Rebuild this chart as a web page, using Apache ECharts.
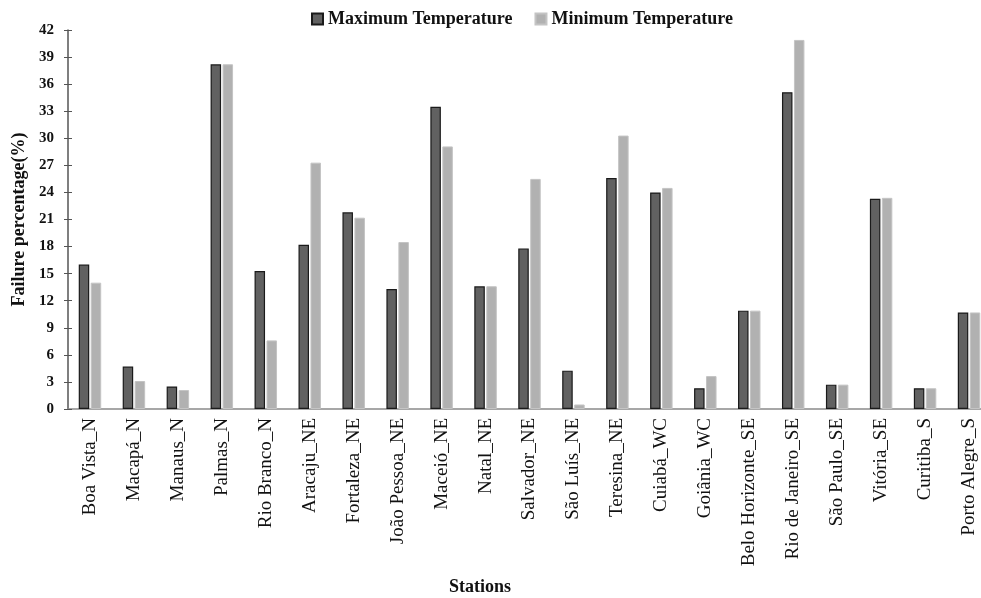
<!DOCTYPE html>
<html><head><meta charset="utf-8">
<script src="https://cdn.jsdelivr.net/npm/echarts@6/dist/echarts.min.js"></script>
<style>html,body{margin:0;padding:0;background:#fff}#c{width:981px;height:598px}</style>
</head><body><div id="c"></div>
<script>
var stations = ["Boa Vista_N","Macapá_N","Manaus_N","Palmas_N","Rio Branco_N","Aracaju_NE","Fortaleza_NE","João Pessoa_NE","Maceió_NE","Natal_NE","Salvador_NE","São Luís_NE","Teresina_NE","Cuiabá_WC","Goiânia_WC","Belo Horizonte_SE","Rio de Janeiro_SE","São Paulo_SE","Vitória_SE","Curitiba_S","Porto Alegre_S"];
var maxTemp = [16.0,4.7,2.5,38.2,15.3,18.2,21.8,13.3,33.5,13.6,17.8,4.25,25.6,24.0,2.3,10.9,35.1,2.7,23.3,2.3,10.7];
var minTemp = [14.0,3.1,2.1,38.2,7.6,27.3,21.2,18.5,29.1,13.6,25.5,0.5,30.3,24.5,3.65,10.9,40.9,2.7,23.4,2.3,10.7];
var serif = "'Liberation Serif','Times New Roman',serif";
var chart = echarts.init(document.getElementById('c'));
chart.setOption({
  animation:false,
  textStyle:{fontFamily:serif},
  title:{text:'Stations',left:444,top:573,textStyle:{fontFamily:serif,fontWeight:'bold',fontSize:18,color:'#111'}},
  legend:{
    top:5, left:306, itemWidth:11, itemHeight:11, itemGap:22,
    icon:'rect',
    textStyle:{fontFamily:serif,fontWeight:'bold',fontSize:18,color:'#111'},
    data:['Maximum Temperature','Minimum Temperature']
  },
  grid:{left:68,width:923,top:30,bottom:189,containLabel:false,outerBoundsMode:'none'},
  xAxis:{
    type:'category', data:stations,
    axisLine:{lineStyle:{color:'#8a8a8a',width:1.5}},
    axisTick:{show:false},
    axisLabel:{rotate:90,interval:0,fontFamily:serif,fontSize:19,color:'#111',margin:9}
  },
  yAxis:[{
    type:'value', min:0, max:42, interval:3,
    name:'Failure percentage(%)', nameLocation:'middle', nameGap:36,
    nameTextStyle:{fontFamily:serif,fontWeight:'bold',fontSize:18,color:'#111'},
    axisLine:{show:true,lineStyle:{color:'#555',width:1.5}},
    axisTick:{show:true,length:4,lineStyle:{color:'#555'}},
    splitLine:{show:false},
    axisLabel:{fontFamily:serif,fontWeight:'bold',fontSize:15,color:'#111',margin:14}
  },{
    type:'value', min:0, max:42, interval:3, position:'left',
    axisLine:{show:false},
    axisTick:{show:true,inside:true,length:4,lineStyle:{color:'#555'}},
    axisLabel:{show:false}, splitLine:{show:false}
  }],
  series:[
    {name:'Maximum Temperature',type:'bar',data:maxTemp,barWidth:10.5,barGap:'14%',
     itemStyle:{color:'#616161',borderColor:'#1a1a1a',borderWidth:1.2}},
    {name:'Minimum Temperature',type:'bar',data:minTemp,barWidth:10.5,
     itemStyle:{color:'#b1b1b1',borderColor:'#c4c4c4',borderWidth:1}}
  ]
});
</script></body></html>
